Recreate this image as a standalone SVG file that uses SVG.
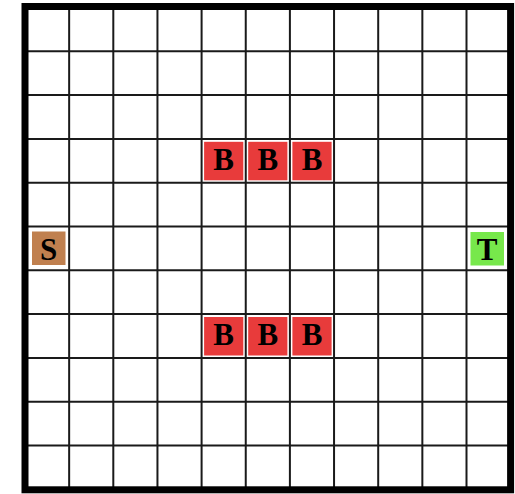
<svg xmlns="http://www.w3.org/2000/svg" width="515" height="494" viewBox="0 0 515 494">
<style>
.g{stroke:#1a1a1a;stroke-width:2;fill:none}
.b{fill:#e83b3b}
.s{fill:#c0804f}
.t{fill:#77e84b}
.lbl{font-family:"Liberation Serif","Times New Roman",serif;font-weight:bold;font-size:31px;fill:#000;text-anchor:middle}
</style>
<rect x="0" y="0" width="515" height="494" fill="#fff"/>
<g id="grid">
<g class="g">
<line x1="69.15" y1="7.5" x2="69.15" y2="489.3"/>
<line x1="113.3" y1="7.5" x2="113.3" y2="489.3"/>
<line x1="157.45" y1="7.5" x2="157.45" y2="489.3"/>
<line x1="201.6" y1="7.5" x2="201.6" y2="489.3"/>
<line x1="245.75" y1="7.5" x2="245.75" y2="489.3"/>
<line x1="289.9" y1="7.5" x2="289.9" y2="489.3"/>
<line x1="334.05" y1="7.5" x2="334.05" y2="489.3"/>
<line x1="378.2" y1="7.5" x2="378.2" y2="489.3"/>
<line x1="422.35" y1="7.5" x2="422.35" y2="489.3"/>
<line x1="466.5" y1="7.5" x2="466.5" y2="489.3"/>
<line x1="25" y1="51.3" x2="510.6" y2="51.3"/>
<line x1="25" y1="95.1" x2="510.6" y2="95.1"/>
<line x1="25" y1="138.9" x2="510.6" y2="138.9"/>
<line x1="25" y1="182.7" x2="510.6" y2="182.7"/>
<line x1="25" y1="226.5" x2="510.6" y2="226.5"/>
<line x1="25" y1="270.3" x2="510.6" y2="270.3"/>
<line x1="25" y1="314.1" x2="510.6" y2="314.1"/>
<line x1="25" y1="357.9" x2="510.6" y2="357.9"/>
<line x1="25" y1="401.7" x2="510.6" y2="401.7"/>
<line x1="25" y1="445.5" x2="510.6" y2="445.5"/>
</g>
<rect x="25" y="6.5" width="485.6" height="483.3" fill="none" stroke="#000" stroke-width="7"/>
</g>
<g id="node-S"><rect class="s" x="32" y="231.5" width="33.5" height="33.5"/><text class="lbl" x="48.7" y="259.5">S</text></g>
<g id="node-T"><rect class="t" x="470.5" y="232" width="33.5" height="33.5"/><text class="lbl" x="487.2" y="259.5">T</text></g>
<g id="node-B1"><rect class="b" x="204.1" y="141.8" width="39.2" height="38.5"/><text class="lbl" x="223.7" y="169.5">B</text></g>
<g id="node-B2"><rect class="b" x="248.2" y="141.8" width="39.2" height="38.5"/><text class="lbl" x="267.8" y="169.5">B</text></g>
<g id="node-B3"><rect class="b" x="292.4" y="141.8" width="39.2" height="38.5"/><text class="lbl" x="312" y="169.5">B</text></g>
<g id="node-B4"><rect class="b" x="204.1" y="317" width="39.2" height="38.5"/><text class="lbl" x="223.7" y="344.7">B</text></g>
<g id="node-B5"><rect class="b" x="248.2" y="317" width="39.2" height="38.5"/><text class="lbl" x="267.8" y="344.7">B</text></g>
<g id="node-B6"><rect class="b" x="292.4" y="317" width="39.2" height="38.5"/><text class="lbl" x="312" y="344.7">B</text></g>
<g id="connectors"></g>
</svg>
